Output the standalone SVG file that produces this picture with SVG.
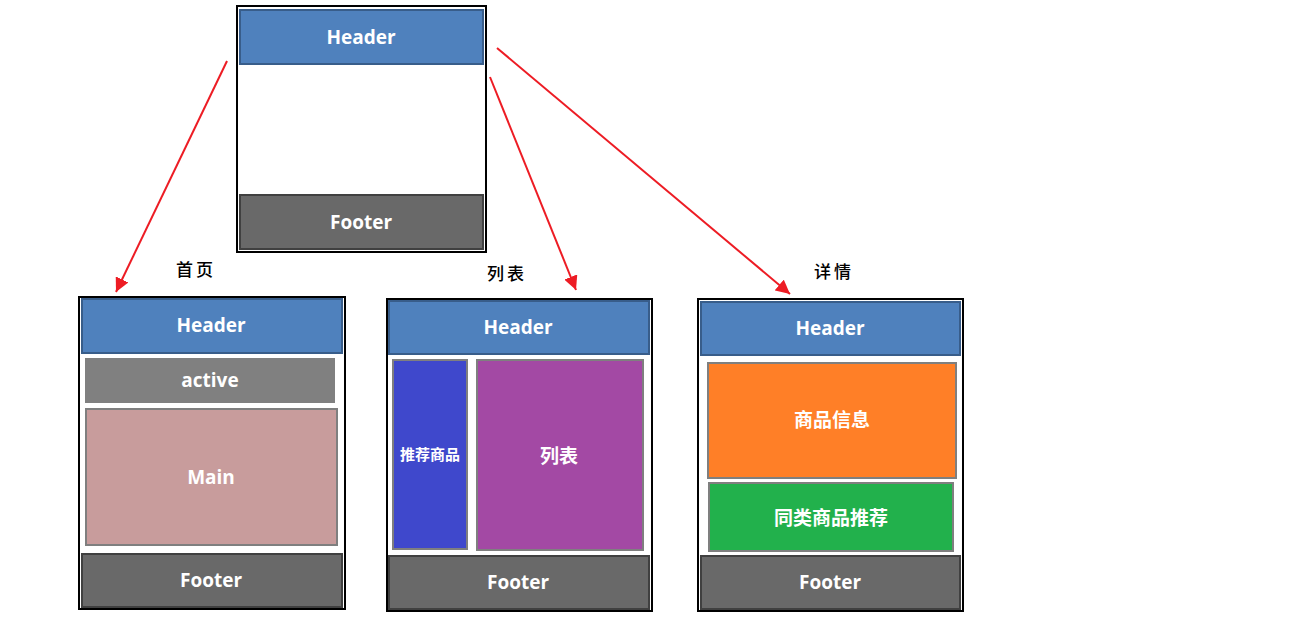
<svg xmlns="http://www.w3.org/2000/svg" width="1292" height="619" viewBox="0 0 1292 619">
<style>
.frame{fill:#fff;stroke:#000;stroke-width:2}
.hdr{fill:#4F81BD;stroke:#385D8A;stroke-width:2}
.ftr{fill:#696969;stroke:#404040;stroke-width:2}
.blk{stroke:#7F7F7F;stroke-width:2}
.t{font-family:"Open Sans","Noto Sans CJK SC",sans-serif;font-weight:bold;fill:#fff;text-anchor:middle;dominant-baseline:central;font-size:19px}
.cap{font-family:"Noto Sans CJK SC",sans-serif;font-weight:500;fill:#000;text-anchor:middle;dominant-baseline:central;font-size:17px;letter-spacing:3px}
.arr{stroke:#ED1C24;stroke-width:2;fill:none;marker-end:url(#ah)}
</style>
<defs>
<marker id="ah" viewBox="0 0 10 10" refX="10" refY="5" markerWidth="7" markerHeight="7" orient="auto" markerUnits="strokeWidth">
<path d="M0,0 L10,5 L0,10 z" fill="#ED1C24"/>
</marker>
</defs>
<rect width="1292" height="619" fill="#fff"/>

<g id="top">
<rect class="frame" x="237" y="6" width="249" height="246"/>
<rect class="hdr" x="240" y="10" width="243" height="54"/>
<text class="t" x="361" y="37">Header</text>
<rect class="ftr" x="240" y="195" width="243" height="54"/>
<text class="t" x="361" y="222">Footer</text>
</g>

<g id="home">
<text class="cap" x="196" y="268">首页</text>
<rect class="frame" x="79" y="297" width="266" height="312"/>
<rect class="hdr" x="82" y="299" width="260" height="54"/>
<text class="t" x="211" y="325">Header</text>
<rect x="85" y="358" width="250" height="45" fill="#808080"/>
<text class="t" x="210" y="380">active</text>
<rect class="blk" x="86" y="409" width="251" height="136" fill="#C89C9C"/>
<text class="t" x="211" y="477">Main</text>
<rect class="ftr" x="82" y="554" width="260" height="53"/>
<text class="t" x="211" y="580">Footer</text>
</g>

<g id="list">
<text class="cap" x="507" y="272">列表</text>
<rect class="frame" x="387" y="299" width="265" height="312"/>
<rect class="hdr" x="389" y="301" width="260" height="53"/>
<text class="t" x="518" y="327">Header</text>
<rect class="blk" x="393" y="360" width="74" height="189" fill="#3F48CC"/>
<text class="t" x="430" y="454" style="font-size:15px">推荐商品</text>
<rect class="blk" x="477" y="360" width="166" height="190" fill="#A349A4"/>
<text class="t" x="559" y="456">列表</text>
<rect class="ftr" x="389" y="556" width="260" height="53"/>
<text class="t" x="518" y="582">Footer</text>
</g>

<g id="detail">
<text class="cap" x="834" y="270">详情</text>
<rect class="frame" x="698" y="299" width="265" height="312"/>
<rect class="hdr" x="701" y="302" width="259" height="53"/>
<text class="t" x="830" y="328">Header</text>
<rect class="blk" x="708" y="363" width="248" height="115" fill="#FF7F27"/>
<text class="t" x="832" y="420">商品信息</text>
<rect class="blk" x="709" y="483" width="244" height="68" fill="#22B14C"/>
<text class="t" x="831" y="518">同类商品推荐</text>
<rect class="ftr" x="701" y="556" width="259" height="53"/>
<text class="t" x="830" y="582">Footer</text>
</g>

<g id="connectors">
<line class="arr" x1="227" y1="61" x2="116" y2="292"/>
<line class="arr" x1="490" y1="77" x2="576" y2="290"/>
<line class="arr" x1="497" y1="48" x2="790" y2="294"/>
</g>
</svg>
